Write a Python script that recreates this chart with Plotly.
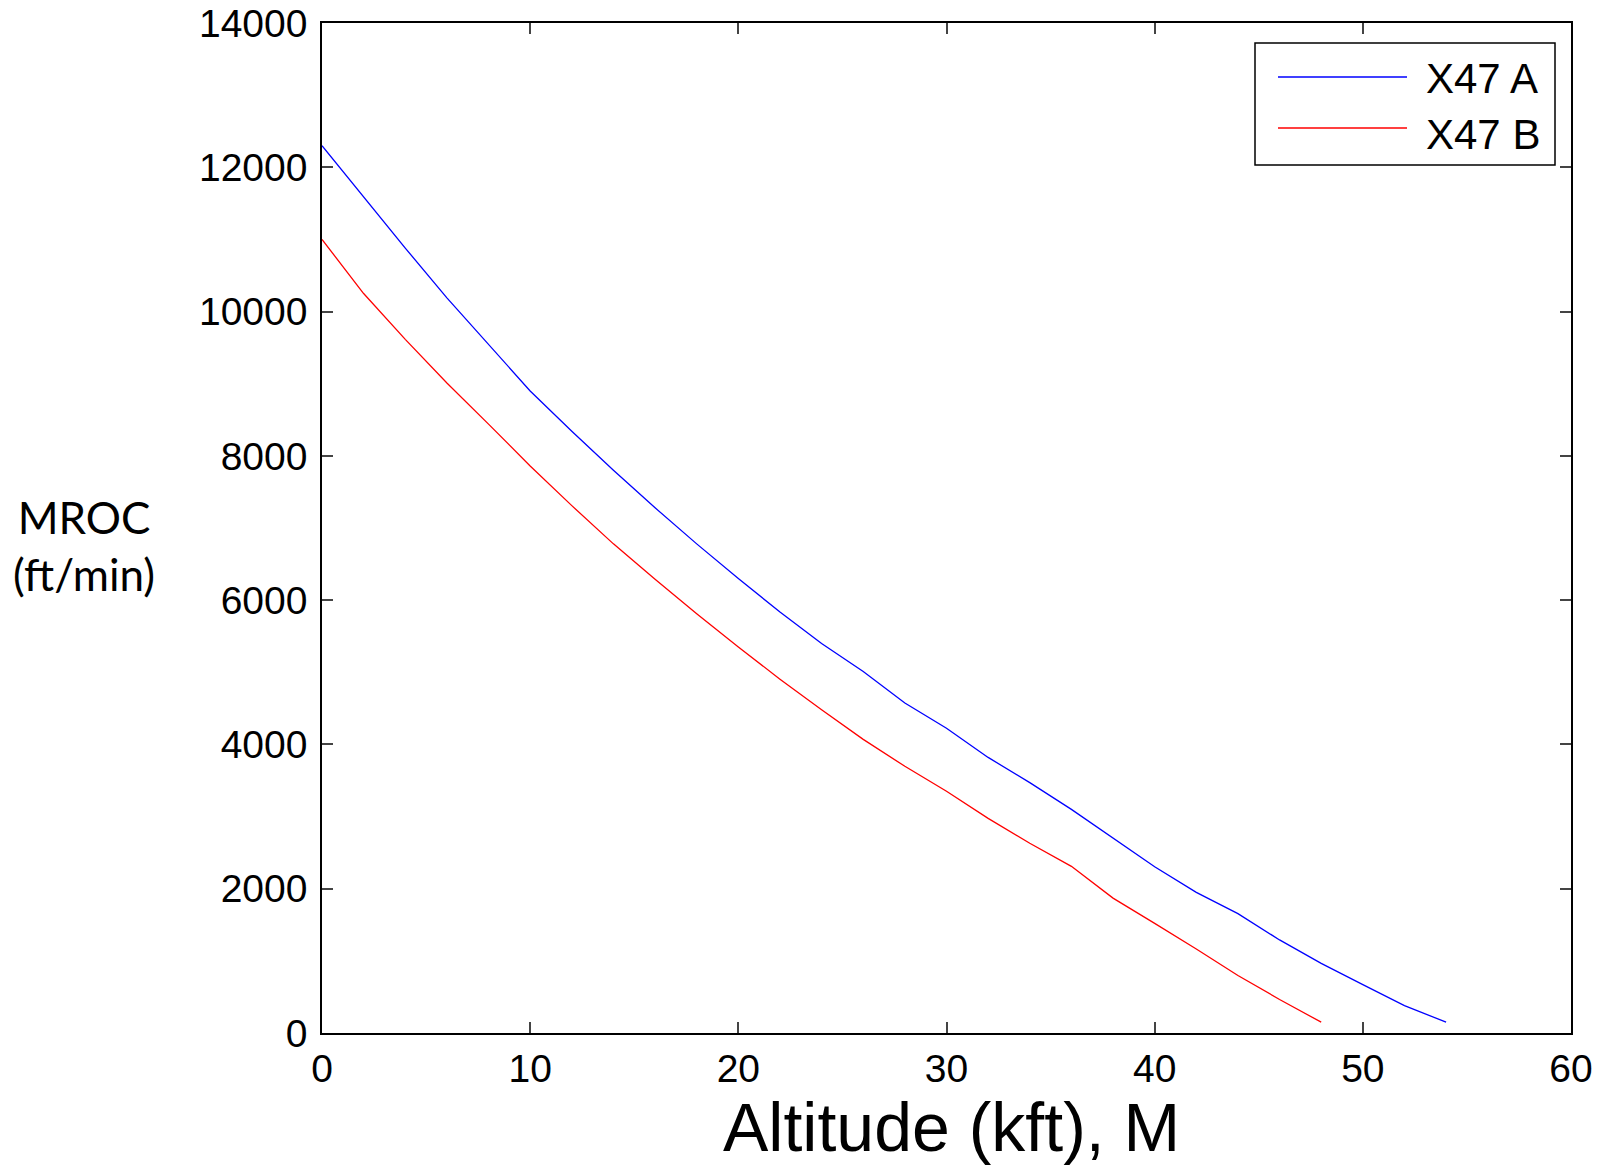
import plotly.graph_objects as go

# ---- data ----
altitude_a = [0, 2, 4, 6, 8, 10, 12, 14, 16, 18, 20, 22, 24, 26, 28, 30, 32, 34, 36, 38, 40, 42, 44, 46, 48, 50, 52, 54]
mroc_a = [12300, 11590, 10880, 10190, 9545, 8900, 8340, 7800, 7280, 6780, 6300, 5835, 5400, 5010, 4575, 4225,
          3820, 3470, 3100, 2705, 2305, 1950, 1655, 1290, 965, 670, 380, 150]

altitude_b = [0, 2, 4, 6, 8, 10, 12, 14, 16, 18, 20, 22, 24, 26, 28, 30, 32, 34, 36, 38, 40, 42, 44, 46, 48]
mroc_b = [11000, 10250, 9615, 9010, 8440, 7860, 7310, 6780, 6290, 5810, 5350, 4905, 4480, 4070, 3697, 3352,
          2975, 2630, 2310, 1870, 1520, 1165, 797, 465, 150]

series_names = ["X47 A", "X47 B"]
series_colors = ["#0000ff", "#ff0000"]

x_ticks = [0, 10, 20, 30, 40, 50, 60]
y_ticks = [0, 2000, 4000, 6000, 8000, 10000, 12000, 14000]

# ---- layout geometry (pixels) ----
W, H = 1600, 1170
L, R, T, B = 322, 29, 23, 137
pw, ph = W - L - R, H - T - B


def px(xp):
    return (xp - L) / pw


def py(yp):
    return (H - B - yp) / ph


fig = go.Figure()
fig.add_trace(go.Scatter(x=altitude_a, y=mroc_a, mode="lines", name=series_names[0],
                         line=dict(color=series_colors[0], width=1.3), showlegend=False))
fig.add_trace(go.Scatter(x=altitude_b, y=mroc_b, mode="lines", name=series_names[1],
                         line=dict(color=series_colors[1], width=1.3), showlegend=False))

axis_common = dict(showline=True, linecolor="black", linewidth=1.5, mirror="ticks",
                   ticks="inside", ticklen=11, tickwidth=1.5, tickcolor="#444",
                   showgrid=False, zeroline=False, ticklabeloverflow="allow", automargin=False,
                   tickfont=dict(family="Liberation Sans, Arial, sans-serif", size=39, color="black"))

fig.update_xaxes(range=[0, 60], tickvals=x_ticks, tickformat="d", **axis_common)
fig.update_yaxes(range=[0, 14000], tickvals=y_ticks, tickformat="d", ticklabelstandoff=5, **axis_common)

# x-axis title
fig.add_annotation(text="Altitude (kft), M", xref="paper", yref="paper",
                   x=px(951), y=py(1127), xanchor="center", yanchor="middle", showarrow=False,
                   font=dict(family="Liberation Sans, Arial, sans-serif", size=68, color="black"))

# y-axis label (horizontal, two lines)
fig.add_annotation(text="MROC<br>(ft/min)", xref="paper", yref="paper",
                   x=px(84), y=py(545), xanchor="center", yanchor="middle", showarrow=False,
                   font=dict(family="Lato, Open Sans, sans-serif", size=44, color="black"))

# legend box
fig.add_shape(type="rect", xref="paper", yref="paper",
              x0=px(1255), x1=px(1555), y0=py(165), y1=py(43),
              line=dict(color="black", width=1.5), fillcolor="white", layer="above")
legend_rows = [(77, 78), (128, 134)]
for (ly, ty), name, color in zip(legend_rows, series_names, series_colors):
    fig.add_shape(type="line", xref="paper", yref="paper",
                  x0=px(1278), x1=px(1407), y0=py(ly), y1=py(ly),
                  line=dict(color=color, width=1.3), layer="above")
    fig.add_annotation(text=name, xref="paper", yref="paper", x=px(1424), y=py(ty),
                       xanchor="left", yanchor="middle", showarrow=False,
                       font=dict(family="Liberation Sans, Arial, sans-serif", size=42, color="black"))

fig.update_layout(width=W, height=H, margin=dict(l=L, r=R, t=T, b=B),
                  paper_bgcolor="white", plot_bgcolor="white", showlegend=False)

fig.write_html("out.html")
